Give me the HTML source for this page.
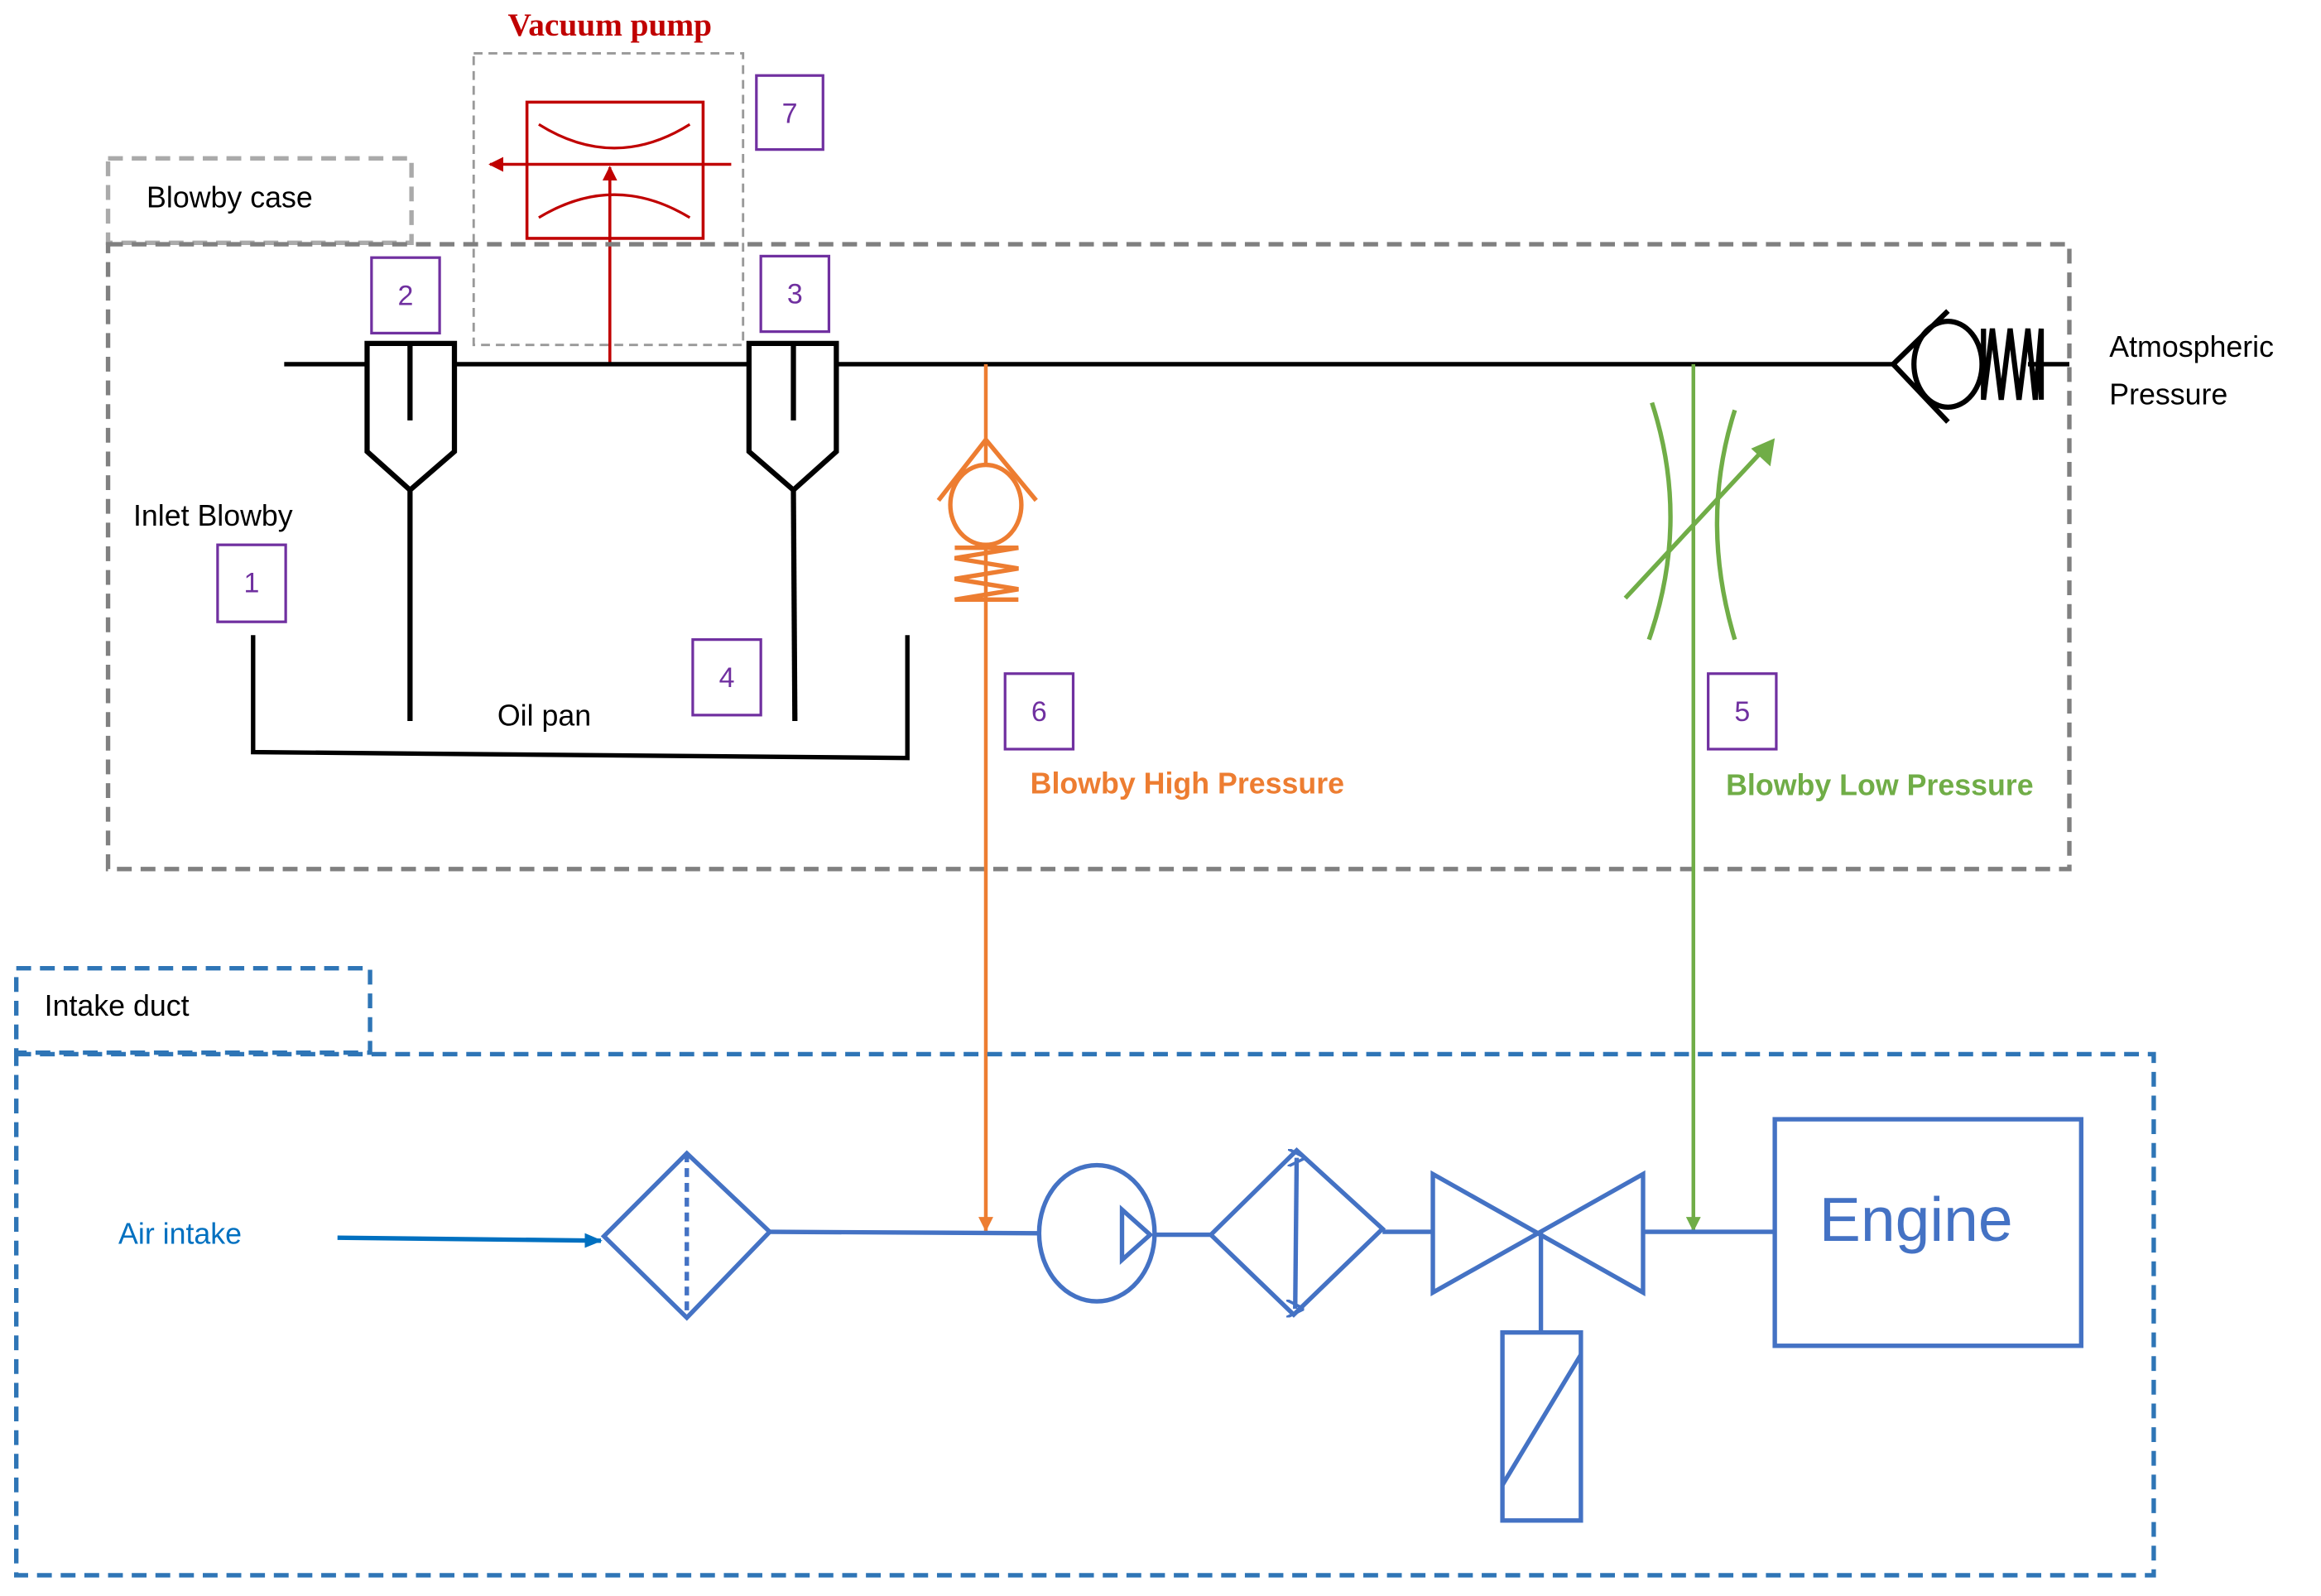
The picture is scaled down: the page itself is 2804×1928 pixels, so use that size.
<!DOCTYPE html>
<html><head><meta charset="utf-8"><style>
html,body{margin:0;padding:0;background:#fff;}
svg{display:block;}
text{font-family:"Liberation Sans",sans-serif;}
</style></head><body>
<svg width="2804" height="1928" viewBox="0 0 1568 1078" preserveAspectRatio="none" xmlns="http://www.w3.org/2000/svg">
<defs>
<marker id="ar" markerWidth="10" markerHeight="10" refX="9" refY="5" orient="auto" markerUnits="userSpaceOnUse"><path d="M0,0 L10,5 L0,10 z" fill="#c00000"/></marker>
<marker id="ao" markerWidth="10" markerHeight="12" refX="10" refY="5" orient="auto" markerUnits="userSpaceOnUse"><path d="M0,0 L10,5 L0,10 z" fill="#ed7d31"/></marker>
<marker id="ag" markerWidth="10" markerHeight="12" refX="10" refY="5" orient="auto" markerUnits="userSpaceOnUse"><path d="M0,0 L10,5 L0,10 z" fill="#70ad47"/></marker>
<marker id="ab" markerWidth="12" markerHeight="12" refX="11" refY="5" orient="auto" markerUnits="userSpaceOnUse"><path d="M0,0 L12,5 L0,10 z" fill="#0070c0"/></marker>
<marker id="bb" markerWidth="12" markerHeight="12" refX="6" refY="6" orient="auto" markerUnits="userSpaceOnUse"><path d="M0,12 L6,0 L12,12" fill="none" stroke="#4472c4" stroke-width="2"/></marker>
</defs>

<text x="412" y="24" text-anchor="middle" font-weight="bold" font-size="22" fill="#c00000" style="font-family:'Liberation Serif',serif">Vacuum pump</text>
<rect x="320" y="36" width="182" height="197" fill="none" stroke="#999" stroke-width="1.6" stroke-dasharray="6 4"/>
<rect x="356" y="69" width="119" height="92" fill="none" stroke="#c00000" stroke-width="2"/>
<path d="M364,84 Q415,116 466,84" fill="none" stroke="#c00000" stroke-width="1.8"/>
<path d="M364,147 Q415,116 466,147" fill="none" stroke="#c00000" stroke-width="1.8"/>
<line x1="494" y1="111" x2="331" y2="111" stroke="#c00000" stroke-width="2" marker-end="url(#ar)"/>
<line x1="412" y1="246" x2="412" y2="113" stroke="#c00000" stroke-width="2" marker-end="url(#ar)"/>
<rect x="511" y="51" width="45" height="50" fill="none" stroke="#7030a0" stroke-width="1.8"/>
<text x="533.5" y="83" text-anchor="middle" font-size="19" fill="#7030a0">7</text>

<rect x="73" y="107" width="205" height="57" fill="none" stroke="#aaa" stroke-width="3" stroke-dasharray="10 6"/>
<text x="99" y="140" font-size="20" fill="#000">Blowby case</text>
<rect x="73" y="165" width="1325" height="422" fill="none" stroke="#808080" stroke-width="3" stroke-dasharray="10 6"/>

<line x1="192" y1="246" x2="1280" y2="246" stroke="#000" stroke-width="3"/>
<line x1="1370" y1="246" x2="1398" y2="246" stroke="#000" stroke-width="3"/>

<g fill="none" stroke="#000" stroke-width="3.5">
<path d="M248,232 L248,305 L277,331 L307,305 L307,232 Z" fill="#fff"/>
<line x1="277" y1="232" x2="277" y2="284"/>
<line x1="277" y1="331" x2="277" y2="487"/>
<path d="M506,232 L506,305 L536,331 L565,305 L565,232 Z" fill="#fff"/>
<line x1="536" y1="232" x2="536" y2="284"/>
<line x1="536" y1="331" x2="537" y2="487"/>
<polyline points="171,429 171,508 613,512 613,429" stroke-width="3"/>
</g>
<g fill="none" stroke="#7030a0" stroke-width="1.8">
<rect x="251" y="174" width="46" height="51"/>
<rect x="514" y="173" width="46" height="51"/>
<rect x="147" y="368" width="46" height="52"/>
<rect x="468" y="432" width="46" height="51"/>
<rect x="679" y="455" width="46" height="51"/>
<rect x="1154" y="455" width="46" height="51"/>
</g>
<g font-size="19" fill="#7030a0" text-anchor="middle">
<text x="274" y="206">2</text>
<text x="537" y="205">3</text>
<text x="170" y="400">1</text>
<text x="491" y="464">4</text>
<text x="702" y="487">6</text>
<text x="1177" y="487">5</text>
</g>
<text x="90" y="355" font-size="20" fill="#000">Inlet Blowby</text>
<text x="336" y="490" font-size="20" fill="#000">Oil pan</text>

<g fill="none" stroke="#000" stroke-width="3.5">
<polyline points="1316,210 1279,246 1316,285"/>
<ellipse cx="1316" cy="246" rx="23" ry="29"/>
<polyline points="1340,222 1340,270 1346,222 1352,270 1358,222 1364,270 1370,222 1375,270 1379,222 1379,270" stroke-width="3.5"/>
</g>
<text x="1425" y="241" font-size="20" fill="#000">Atmospheric</text>
<text x="1425" y="273" font-size="20" fill="#000">Pressure</text>

<line x1="666" y1="246" x2="666" y2="832" stroke="#ed7d31" stroke-width="2.5" marker-end="url(#ao)"/>
<g fill="none" stroke="#ed7d31" stroke-width="3">
<polyline points="634,338 666,297 700,338"/>
<ellipse cx="666" cy="341" rx="24" ry="27" fill="#fff"/>
<polyline points="645,370 688,370 645,377 688,384 645,391 688,398 645,405 688,405"/>
</g>
<text x="696" y="536" font-size="20" font-weight="bold" fill="#ed7d31">Blowby High Pressure</text>

<line x1="1144" y1="246" x2="1144" y2="832" stroke="#70ad47" stroke-width="2.5" marker-end="url(#ag)"/>
<g fill="none" stroke="#70ad47" stroke-width="3">
<path d="M1116,272 Q1142,352 1114,432"/>
<path d="M1172,277 Q1148,352 1172,432"/>
<line x1="1098" y1="404" x2="1192" y2="303"/>
</g>
<path d="M1199,296 L1196,315 L1183,303 Z" fill="#70ad47"/>
<text x="1166" y="537" font-size="20" font-weight="bold" fill="#70ad47">Blowby Low Pressure</text>

<rect x="11" y="654" width="239" height="57" fill="none" stroke="#2e75b6" stroke-width="3" stroke-dasharray="10 6"/>
<text x="30" y="686" font-size="20" fill="#000">Intake duct</text>
<rect x="11" y="712" width="1444" height="352" fill="none" stroke="#2e75b6" stroke-width="3" stroke-dasharray="10 6"/>
<text x="80" y="840" font-size="20" fill="#0070c0">Air intake</text>
<line x1="228" y1="836" x2="406" y2="838" stroke="#0070c0" stroke-width="3" marker-end="url(#ab)"/>

<g fill="none" stroke="#4472c4" stroke-width="3">
<polygon points="408,835 464,779 520,832 464,890"/>
<line x1="464" y1="779" x2="464" y2="890" stroke-dasharray="6 4"/>
<line x1="520" y1="832" x2="702" y2="833"/>
<ellipse cx="741" cy="833" rx="39" ry="46"/>
<polygon points="758,817 758,851 777,834"/>
<line x1="780" y1="834" x2="818" y2="834"/>
<polygon points="818,834 876,777 934,830 874,888"/>
<line x1="876" y1="782" x2="875" y2="884" marker-start="url(#bb)" marker-end="url(#bb)"/>
<line x1="934" y1="832" x2="968" y2="832"/>
<polygon points="968,793 1110,873 1110,793 968,873"/>
<line x1="1041" y1="832" x2="1041" y2="900"/>
<rect x="1015" y="900" width="53" height="127"/>
<line x1="1015" y1="1003" x2="1068" y2="915"/>
<line x1="1110" y1="832" x2="1198" y2="832"/>
<rect x="1199" y="756" width="207" height="153"/>
</g>
<text x="1229" y="838" font-size="42" fill="#4472c4">Engine</text>
</svg>
</body></html>
